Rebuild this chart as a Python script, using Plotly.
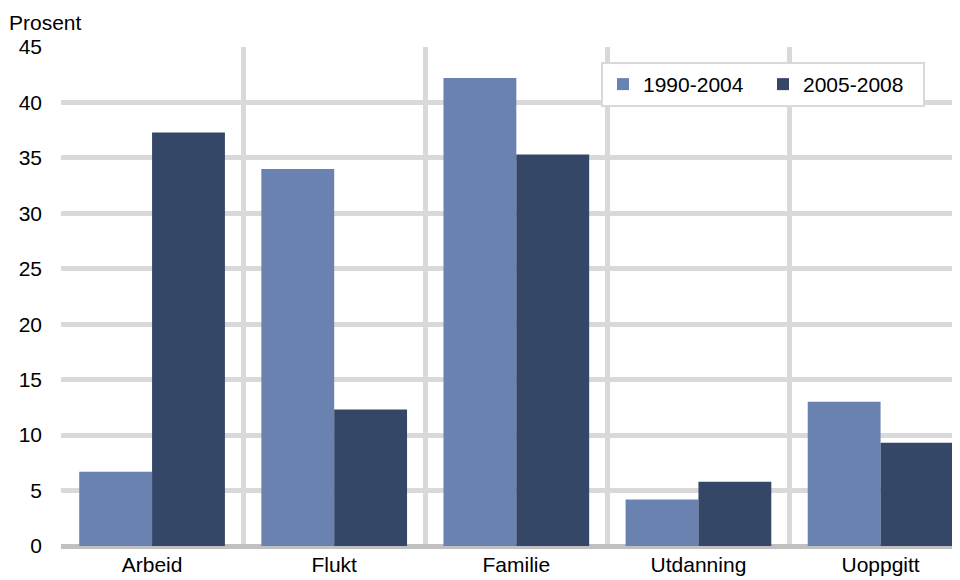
import plotly.graph_objects as go

categories = ["Arbeid", "Flukt", "Familie", "Utdanning", "Uoppgitt"]
series_1990_2004 = [6.7, 34.0, 42.2, 4.2, 13.0]
series_2005_2008 = [37.3, 12.3, 35.3, 5.8, 9.3]
y_ticks = [0, 5, 10, 15, 20, 25, 30, 35, 40, 45]

fig = go.Figure()
fig.add_trace(go.Bar(x=categories, y=series_1990_2004, name="1990-2004",
                     marker=dict(color="#6a82b0", line=dict(width=0))))
fig.add_trace(go.Bar(x=categories, y=series_2005_2008, name="2005-2008",
                     marker=dict(color="#344767", line=dict(width=0))))

font = "Liberation Sans, Arial, sans-serif"
fig.update_layout(
    width=960, height=580,
    margin=dict(l=53, r=0, t=39, b=42, autoexpand=False),
    paper_bgcolor="white", plot_bgcolor="white",
    barmode="group", bargap=0.2, bargroupgap=0,
    font=dict(family=font, size=21, color="#000000"),
    showlegend=True,
    legend=dict(orientation="h", x=(601 - 61) / 907, y=0.97, xanchor="left", yanchor="top",
                bordercolor="#d9d9d9", borderwidth=2, bgcolor="white",
                font=dict(size=21), entrywidth=115, entrywidthmode="pixels",
                tracegroupgap=0),
    xaxis=dict(type="category", range=[-0.5, 4.48], tickson="boundaries",
               showgrid=True, gridcolor="#d9d9d9", gridwidth=5,
               ticks="", showline=False, zeroline=False,
               ticklabelstandoff=4, tickfont=dict(size=21)),
    yaxis=dict(range=[0, 45], tickvals=y_ticks, showgrid=True, gridcolor="#d9d9d9",
               gridwidth=5, zeroline=True, zerolinecolor="#c0c0c0", zerolinewidth=5,
               ticks="", ticklabelstandoff=18, tickfont=dict(size=21)),
    annotations=[dict(text="Prosent", xref="paper", yref="paper", x=-0.0595, y=1.022,
                      xanchor="left", yanchor="bottom", showarrow=False,
                      font=dict(size=21))],
)

fig.write_html("out.html")
